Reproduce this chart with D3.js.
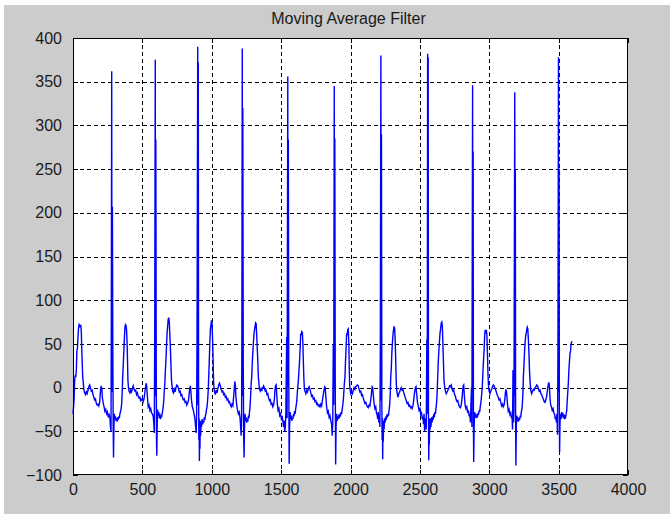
<!DOCTYPE html>
<html>
<head>
<meta charset="utf-8">
<script src="https://cdn.jsdelivr.net/npm/d3@7"></script>
<style>
  html, body { margin: 0; padding: 0; background: #ffffff; }
  #viz { width: 670px; height: 514px; }
</style>
</head>
<body>
<div id="viz"></div>
<script>
// chart text and ticks
const title = "Moving Average Filter";
const xTicks = [0, 500, 1000, 1500, 2000, 2500, 3000, 3500, 4000];
const yTicks = [-100, -50, 0, 50, 100, 150, 200, 250, 300, 350, 400];

// filtered signal, [sample, value], one beat at a time
const lead = [[0,-30],[4,-22],[8,-12],[12,8],[16,14],[20,12],[24,20],[28,42],[32,45],[36,58],[40,68],[44,72],[50,70],[56,71],[60,64],[63,45],[66,30],[70,12],[74,6],[78,-2],[84,-6],[90,-8],[96,-5],[102,-7],[108,-3],[114,1],[120,3],[126,0],[132,-4],[138,-3],[144,-8],[150,-11],[156,-14],[162,-13],[168,-18],[174,-20],[180,-19],[186,-21],[192,-17],[196,-8],[200,-1],[204,2],[208,-2],[212,-12],[218,-18],[224,-22],[230,-27],[236,-25],[242,-30],[248,-28],[254,-33],[260,-31],[266,-35],[270,-45],[274,-50],[276,72]];
const beat1 = [[279,362],[281,-5],[284,207],[287,40],[290,-50],[292,-80],[295,-45],[298,-30],[302,-36],[306,-33],[310,-38],[314,-35],[318,-39],[322,-34],[326,-37],[330,-33],[334,-35],[338,-30],[342,-28],[346,-25],[350,-20],[354,-8],[358,12],[362,25],[366,40],[370,55],[374,68],[378,72],[382,71],[386,66],[390,50],[393,30],[396,8],[400,0],[404,-4],[410,-6],[416,-3],[422,-5],[428,-1],[434,2],[440,-2],[446,-4],[452,-3],[458,-8],[464,-6],[470,-10],[476,-12],[482,-11],[488,-15],[494,-14],[500,-12],[506,-16],[512,-13],[518,-5],[524,2],[528,5],[532,0],[536,-10],[542,-22],[548,-20],[554,-26],[560,-24],[566,-29],[572,-30],[578,-33],[582,-40],[586,-52],[589,60]];
const beat2 = [[593,375],[595,-10],[597,284],[600,20],[602,-60],[604,-78],[607,-40],[610,-25],[614,-32],[618,-28],[622,-35],[626,-30],[630,-36],[634,-32],[638,-34],[642,-30],[646,-27],[650,-22],[654,-15],[658,-3],[662,5],[666,20],[670,32],[674,48],[678,62],[682,70],[686,78],[690,80],[694,75],[698,60],[702,45],[706,25],[710,8],[714,2],[718,-4],[724,-6],[730,-2],[736,-5],[742,0],[748,3],[754,2],[760,-1],[766,-5],[772,-4],[778,-9],[784,-8],[790,-12],[796,-14],[802,-13],[808,-17],[814,-16],[820,-20],[826,-18],[832,-15],[838,-6],[842,0],[846,2],[850,-5],[854,-14],[860,-22],[866,-25],[872,-30],[878,-35],[884,-45],[888,-52],[891,-30],[894,60]];
const beat3 = [[899,390],[901,-20],[903,372],[905,10],[907,-60],[909,-35],[911,-84],[913,-50],[915,-70],[917,-38],[920,-55],[923,-40],[926,-45],[930,-36],[934,-42],[938,-38],[942,-40],[946,-34],[950,-37],[954,-32],[958,-30],[962,-25],[966,-22],[970,-15],[974,-5],[978,12],[982,30],[986,50],[990,66],[994,72],[998,77],[1002,74],[1006,55],[1010,30],[1013,8],[1016,0],[1020,-5],[1026,-8],[1032,-3],[1038,-6],[1044,-1],[1050,3],[1056,5],[1062,2],[1068,-2],[1074,-5],[1080,-4],[1086,-8],[1092,-7],[1098,-11],[1104,-10],[1110,-14],[1116,-13],[1122,-17],[1128,-16],[1134,-20],[1140,-22],[1146,-19],[1152,-21],[1158,-10],[1162,-2],[1166,7],[1170,3],[1174,-10],[1180,-20],[1186,-26],[1192,-30],[1198,-28],[1204,-35],[1208,-45],[1212,-55],[1215,-35],[1217,55]];
const beat4 = [[1220,388],[1222,-10],[1224,320],[1227,30],[1230,-55],[1233,-80],[1236,-45],[1240,-30],[1244,-38],[1248,-34],[1252,-40],[1256,-36],[1260,-39],[1264,-32],[1268,-35],[1272,-28],[1276,-22],[1280,-10],[1284,5],[1288,12],[1292,28],[1296,40],[1300,51],[1305,62],[1310,68],[1316,74],[1320,73],[1324,60],[1328,45],[1332,31],[1336,12],[1340,5],[1344,-2],[1350,-4],[1356,-1],[1362,-3],[1368,0],[1374,2],[1380,-1],[1386,-4],[1392,-3],[1398,-8],[1404,-7],[1410,-12],[1416,-15],[1422,-14],[1428,-19],[1434,-18],[1440,-22],[1446,-20],[1452,-12],[1456,-2],[1460,2],[1464,3],[1468,-6],[1472,-18],[1478,-26],[1484,-24],[1490,-32],[1496,-30],[1502,-36],[1508,-34],[1514,-40],[1518,-45],[1522,-38],[1526,-50],[1530,-45],[1534,-30],[1540,58],[1543,-35]];
const beat5 = [[1548,356],[1550,0],[1552,284],[1555,15],[1558,-87],[1561,-45],[1565,-28],[1569,-36],[1573,-32],[1577,-38],[1581,-34],[1585,-36],[1589,-30],[1593,-33],[1597,-27],[1601,-30],[1605,-24],[1609,-20],[1613,-15],[1617,-5],[1621,2],[1625,10],[1629,20],[1633,31],[1637,45],[1641,62],[1645,60],[1649,64],[1653,63],[1657,50],[1660,31],[1664,10],[1668,-2],[1672,-4],[1678,-7],[1684,-3],[1690,-5],[1696,-1],[1702,1],[1708,-2],[1714,-6],[1720,-10],[1726,-9],[1732,-13],[1738,-12],[1744,-16],[1750,-15],[1756,-19],[1762,-18],[1768,-21],[1774,-20],[1780,-22],[1786,-19],[1792,-21],[1798,-14],[1804,-8],[1810,-2],[1814,1],[1818,0],[1822,-10],[1828,-22],[1834,-29],[1840,-27],[1846,-34],[1852,-32],[1858,-38],[1864,-42],[1868,-55],[1872,-40],[1876,50],[1879,-20]];
const beat6 = [[1883,345],[1885,0],[1887,285],[1890,10],[1893,-88],[1896,-45],[1900,-30],[1904,-38],[1908,-33],[1912,-36],[1916,-31],[1920,-35],[1924,-30],[1928,-33],[1932,-28],[1936,-30],[1940,-25],[1944,-20],[1948,-15],[1952,-5],[1956,5],[1960,12],[1964,30],[1968,45],[1972,62],[1976,60],[1980,66],[1984,67],[1988,50],[1991,25],[1994,3],[1998,-3],[2002,-7],[2008,-5],[2014,-7],[2020,-3],[2026,0],[2032,-2],[2038,1],[2044,2],[2050,3],[2056,2],[2062,-2],[2068,-5],[2074,-4],[2080,-9],[2086,-8],[2092,-12],[2098,-15],[2104,-18],[2110,-17],[2116,-20],[2122,-22],[2128,-23],[2134,-20],[2140,-21],[2146,-14],[2152,-5],[2156,1],[2160,0],[2164,-8],[2170,-18],[2176,-24],[2182,-22],[2188,-30],[2192,-31],[2196,-36],[2200,-28],[2204,-40],[2208,-32],[2212,-45],[2215,50]];
const beat7 = [[2219,380],[2221,-15],[2223,290],[2226,-20],[2228,-60],[2230,-35],[2232,-82],[2234,-45],[2236,-62],[2239,-38],[2242,-48],[2246,-35],[2250,-40],[2254,-33],[2258,-37],[2262,-31],[2266,-34],[2270,-30],[2274,-32],[2278,-26],[2282,-20],[2286,-10],[2290,12],[2294,22],[2298,40],[2302,51],[2306,60],[2310,66],[2314,70],[2318,68],[2322,55],[2326,30],[2330,5],[2334,-4],[2338,-8],[2342,-11],[2348,-7],[2354,-5],[2360,-2],[2366,0],[2372,-3],[2378,-2],[2384,-6],[2390,-9],[2396,-12],[2402,-15],[2408,-18],[2414,-17],[2420,-21],[2426,-20],[2432,-23],[2438,-22],[2444,-24],[2450,-21],[2456,-14],[2462,-5],[2468,0],[2472,1],[2476,-6],[2482,-16],[2488,-21],[2494,-26],[2500,-24],[2506,-31],[2512,-29],[2518,-36],[2522,-33],[2526,-42],[2530,-30],[2534,-50],[2538,-35],[2542,-40],[2546,-48],[2550,55],[2553,-30]];
const beat8 = [[2556,382],[2558,-10],[2560,378],[2562,-30],[2564,-83],[2566,-50],[2568,-65],[2571,-35],[2574,-48],[2577,-36],[2580,-45],[2584,-34],[2588,-40],[2592,-33],[2596,-37],[2600,-30],[2604,-34],[2608,-28],[2612,-30],[2616,-24],[2620,-18],[2624,-8],[2628,10],[2633,31],[2638,45],[2645,62],[2650,68],[2654,74],[2658,75],[2662,70],[2666,50],[2670,28],[2674,8],[2678,2],[2684,-4],[2690,-7],[2696,-5],[2702,-3],[2708,-1],[2714,2],[2720,1],[2726,3],[2732,-1],[2738,-4],[2744,-3],[2750,-8],[2756,-10],[2762,-14],[2768,-16],[2774,-15],[2780,-20],[2786,-22],[2792,-23],[2798,-20],[2804,-12],[2808,-4],[2812,2],[2816,3],[2820,-8],[2826,-20],[2832,-24],[2838,-22],[2844,-28],[2850,-27],[2856,-33],[2860,-30],[2864,-40],[2868,-20],[2872,0],[2875,-45]];
const beat9 = [[2880,346],[2882,-5],[2884,270],[2886,-40],[2888,-85],[2891,-45],[2895,-28],[2899,-34],[2903,-30],[2907,-35],[2911,-31],[2915,-34],[2919,-29],[2923,-31],[2927,-26],[2931,-28],[2935,-22],[2939,-18],[2943,-12],[2947,-5],[2951,5],[2955,20],[2959,32],[2963,43],[2967,60],[2971,66],[2975,64],[2979,66],[2983,60],[2987,40],[2991,15],[2995,1],[2999,-4],[3005,-7],[3011,-4],[3017,-2],[3023,1],[3029,3],[3035,2],[3041,-1],[3047,-3],[3053,-6],[3059,-9],[3065,-11],[3071,-14],[3077,-13],[3083,-17],[3089,-21],[3095,-19],[3101,-22],[3107,-20],[3113,-12],[3117,-5],[3121,-2],[3125,-6],[3131,-18],[3137,-27],[3143,-25],[3149,-31],[3155,-29],[3160,-35],[3164,-32],[3168,-48],[3171,20],[3175,-40],[3178,-25]];
const beat10 = [[3184,338],[3186,-10],[3188,250],[3190,-30],[3192,-89],[3195,-45],[3199,-32],[3203,-38],[3207,-34],[3211,-39],[3215,-35],[3219,-37],[3223,-32],[3227,-34],[3231,-28],[3235,-25],[3239,-18],[3243,-5],[3246,12],[3250,25],[3254,40],[3258,51],[3262,58],[3266,62],[3270,66],[3274,69],[3278,67],[3282,55],[3286,40],[3290,20],[3294,8],[3298,-2],[3302,-5],[3306,-7],[3312,-4],[3318,-2],[3324,-3],[3330,0],[3336,1],[3342,3],[3348,2],[3354,-1],[3360,-4],[3366,-3],[3372,-7],[3378,-8],[3384,-11],[3390,-13],[3396,-16],[3402,-17],[3408,-14],[3414,-10],[3420,-2],[3426,4],[3430,6],[3434,0],[3438,-12],[3442,-19],[3448,-22],[3454,-26],[3460,-24],[3466,-29],[3472,-31],[3476,-36],[3480,-33],[3484,-40],[3488,-30],[3492,-54],[3495,40]];
const beat11 = [[3499,378],[3501,-5],[3503,250],[3505,-20],[3507,-74],[3510,-40],[3514,-30],[3518,-36],[3522,-28],[3526,-33],[3530,-29],[3534,-35],[3538,-31],[3542,-36],[3546,-33],[3550,-34],[3554,-30],[3558,-27],[3562,-15],[3566,-5],[3570,5],[3574,20],[3578,30],[3582,39],[3586,42],[3590,50],[3594,52],[3598,53]];

const trace = [].concat(lead, beat1, beat2, beat3, beat4, beat5, beat6, beat7, beat8, beat9, beat10, beat11);

document.addEventListener("DOMContentLoaded", () => {
  const width = 670;
  const height = 514;
  const plot = { left: 73, top: 38, right: 628, bottom: 475 };

  const svg = d3.select("#viz")
      .append("svg")
      .attr("width", width)
      .attr("height", height)
      .style("display", "block")
      .style("font-family", "'Liberation Sans', Arial, sans-serif");

  // grey figure background, thin white strip top/left as in the screenshot
  svg.append("rect")
      .attr("x", 4).attr("y", 5)
      .attr("width", width - 4).attr("height", height - 5)
      .attr("fill", "#cccccc");

  const x = d3.scaleLinear().domain([0, 4000]).range([plot.left, plot.right]);
  const y = d3.scaleLinear().domain([-100, 400]).range([plot.bottom, plot.top]);

  svg.append("rect")
      .attr("x", plot.left).attr("y", plot.top)
      .attr("width", plot.right - plot.left)
      .attr("height", plot.bottom - plot.top)
      .attr("fill", "#ffffff");

  // dashed grid
  const grid = svg.append("g")
      .attr("stroke", "#000")
      .attr("stroke-width", 1)
      .attr("stroke-dasharray", "4,3")
      .attr("shape-rendering", "crispEdges");

  grid.selectAll("line.gx")
      .data(xTicks.slice(1, -1))
      .enter()
      .append("line")
      .attr("class", "gx")
      .attr("x1", d => Math.round(x(d)) + 0.5)
      .attr("x2", d => Math.round(x(d)) + 0.5)
      .attr("y1", plot.top)
      .attr("y2", plot.bottom);

  grid.selectAll("line.gy")
      .data(yTicks.slice(1, -1))
      .enter()
      .append("line")
      .attr("class", "gy")
      .attr("y1", d => Math.round(y(d)) + 0.5)
      .attr("y2", d => Math.round(y(d)) + 0.5)
      .attr("x1", plot.left)
      .attr("x2", plot.right);

  // signal
  const line = d3.line()
      .x(d => x(d[0]))
      .y(d => y(d[1]));

  svg.append("path")
      .datum(trace)
      .attr("d", line)
      .attr("fill", "none")
      .attr("stroke", "#0000ff")
      .attr("stroke-width", 1.4)
      .attr("stroke-linejoin", "miter");

  // axes: MATLAB style, ticks pointing inward on every side
  const tick = 5;
  const fmt = d3.format("d");
  const axisBottom = d3.axisBottom(x).tickValues(xTicks).tickFormat(fmt).tickSizeInner(-tick).tickSizeOuter(0).tickPadding(9);
  const axisLeft = d3.axisLeft(y).tickValues(yTicks).tickFormat(fmt).tickSizeInner(-tick).tickSizeOuter(0).tickPadding(11);
  const axisTop = d3.axisTop(x).tickValues(xTicks).tickSizeInner(-tick).tickSizeOuter(0).tickFormat("");
  const axisRight = d3.axisRight(y).tickValues(yTicks).tickSizeInner(-tick).tickSizeOuter(0).tickFormat("");

  const styleAxis = g => {
    g.select(".domain").remove();
    g.selectAll("line").attr("stroke", "#000").attr("shape-rendering", "crispEdges");
    g.selectAll("text")
        .attr("fill", "#1a1a1a")
        .style("font-size", "16px")
        .style("font-family", "'Liberation Sans', Arial, sans-serif");
  };

  svg.append("g").attr("transform", `translate(0,${plot.bottom})`).call(axisBottom).call(styleAxis);
  svg.append("g").attr("transform", `translate(${plot.left},0)`).call(axisLeft).call(styleAxis);
  svg.append("g").attr("transform", `translate(0,${plot.top})`).call(axisTop).call(styleAxis);
  svg.append("g").attr("transform", `translate(${plot.right},0)`).call(axisRight).call(styleAxis);

  svg.append("rect")
      .attr("x", plot.left + 0.5).attr("y", plot.top + 0.5)
      .attr("width", plot.right - plot.left - 1)
      .attr("height", plot.bottom - plot.top - 1)
      .attr("fill", "none")
      .attr("stroke", "#000")
      .attr("stroke-width", 1)
      .attr("shape-rendering", "crispEdges");

  svg.append("text")
      .attr("x", (plot.left + plot.right) / 2 - 2)
      .attr("y", 24)
      .attr("text-anchor", "middle")
      .attr("fill", "#1a1a1a")
      .style("font-size", "16px")
      .text(title);
});
</script>
</body>
</html>
